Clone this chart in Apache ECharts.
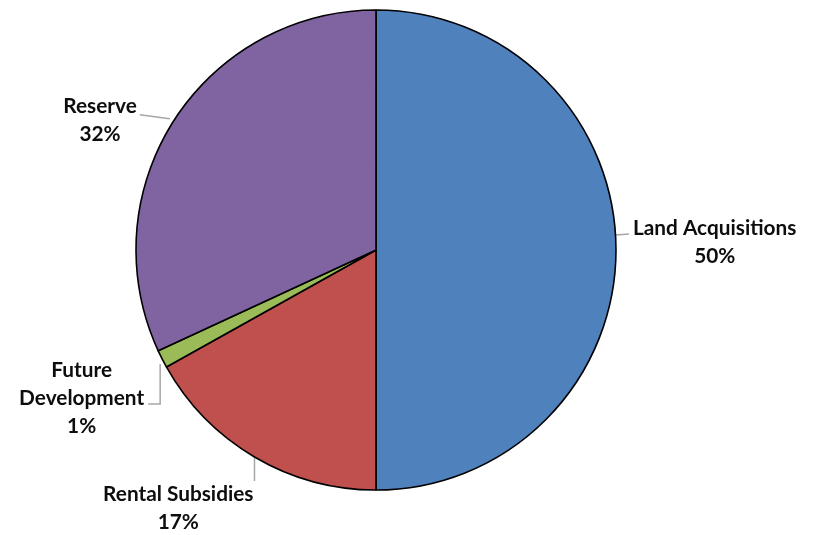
<!DOCTYPE html>
<html>
<head>
<meta charset="utf-8">
<script src="https://cdn.jsdelivr.net/npm/echarts@6/dist/echarts.min.js"></script>
<style>html,body{margin:0;padding:0;background:#fff}#c{width:814px;height:535px}</style>
</head>
<body>
<div id="c"></div>
<script>
var categories = ['Land Acquisitions', 'Rental Subsidies', 'Future Development', 'Reserve'];
var values = [50, 16.9, 1.2, 31.9];
var labelNames = ['Land Acquisitions', 'Rental Subsidies', 'Future\nDevelopment', 'Reserve'];
var colors = ['#4F81BD', '#C0504D', '#9BBB59', '#8064A2'];

// label line offsets relative to the sector's edge anchor point, and label placement
var labelGuides = [
  { pts: [[-0.5, -15], [13, -16]], side: 'left', gap: 17, dy: -8 },
  { pts: [[0, 1], [0, 24]], side: 'below', gap: -1, dy: 51 },
  { pts: [[-2, 5], [-2, 45], [-14, 45]], side: 'right', gap: 18, dy: 39 },
  { pts: [[-4, -2], [-34, -6]], side: 'right', gap: 37, dy: 0 }
];

var chart = echarts.init(document.getElementById('c'), null, { renderer: 'canvas' });
chart.setOption({
  animation: false,
  color: colors,
  series: [{
    type: 'pie',
    center: [376, 250],
    radius: 240,
    startAngle: 90,
    clockwise: true,
    percentPrecision: 0,
    avoidLabelOverlap: false,
    itemStyle: { borderColor: '#000', borderWidth: 1.6 },
    label: {
      show: true,
      position: 'outside',
      fontFamily: 'Lato',
      fontWeight: 'bold',
      fontSize: 20.8,
      lineHeight: 28,
      color: '#0d0d0d',
      align: 'center',
      formatter: function (p) { return labelNames[p.dataIndex] + '\n' + p.percent + '%'; }
    },
    labelLine: { show: true, length: 5, length2: 10, lineStyle: { color: '#a6a6a6', width: 1.5 } },
    emphasis: { disabled: true },
    labelLayout: function (p) {
      var g = labelGuides[p.dataIndex];
      var a = p.labelLinePoints[0];
      var pts = g.pts.map(function (o) { return [a[0] + o[0], a[1] + o[1]]; });
      var w = p.labelRect.width;
      var x;
      if (g.side === 'left') x = a[0] + g.gap + w / 2;
      else if (g.side === 'right') x = a[0] - g.gap - w / 2;
      else x = a[0] + g.gap - w / 2;
      return { x: x, y: a[1] + g.dy, align: 'center', verticalAlign: 'middle', labelLinePoints: pts };
    },
    data: categories.map(function (c, i) { return { name: c, value: values[i] }; })
  }]
});
</script>
</body>
</html>
